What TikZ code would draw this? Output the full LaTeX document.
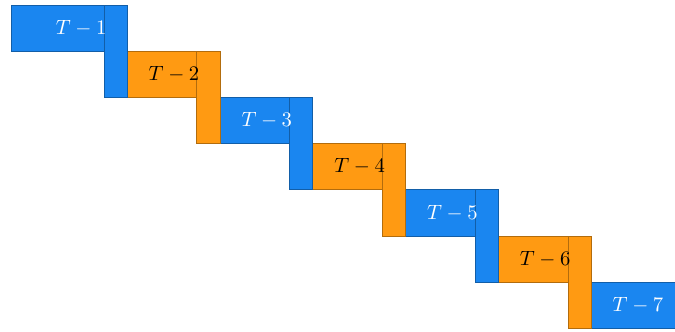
\documentclass[tikz,border=0pt]{standalone}
\usepackage{tikz}
\definecolor{StepBlue}{HTML}{1A86F0}
\definecolor{StepOrange}{HTML}{FF9A12}
\tikzset{stepcell/.style={line width=0.35pt}}

\begin{document}
\begin{tikzpicture}[x=1.7cm,y=1.7cm]
  \useasboundingbox (0,0) rectangle (6.75,3.31);
  \clip (0,0) rectangle (6.75,3.31);
  % drawn from the last step back to the first, so each riser lies on the next bar
  \foreach \k/\col/\txt in {7/StepBlue/white,6/StepOrange/black,5/StepBlue/white,
                            4/StepOrange/black,3/StepBlue/white,2/StepOrange/black,
                            1/StepBlue/white}{
    \pgfmathsetmacro{\xa}{0.112+(\k-1)*0.928}
    \pgfmathsetmacro{\ya}{3.26-(\k-1)*0.462}
    \filldraw[fill=\col,draw=\col!70!black,stepcell]
      (\xa,\ya-0.462) rectangle (\xa+1.16,\ya);
    \ifnum\k<7
      \filldraw[fill=\col,draw=\col!70!black,stepcell]
        (\xa+0.928,\ya-0.924) rectangle (\xa+1.16,\ya);
    \fi
    \node[text=\txt] (lab\k) at (\xa+0.70,\ya-0.231) {$T-\k$};
  }
\end{tikzpicture}
\end{document}
